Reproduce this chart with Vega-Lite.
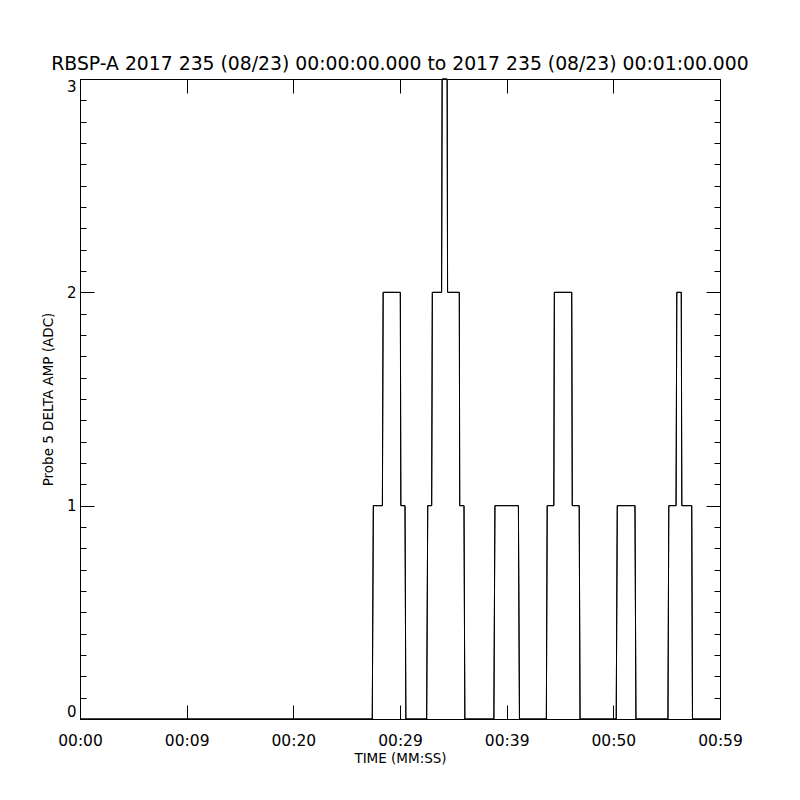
{
  "$schema": "https://vega.github.io/schema/vega-lite/v6.json",
  "autosize": {"type": "none"},
  "width": 640,
  "height": 640,
  "padding": {"left": 80, "top": 79, "right": 80, "bottom": 81},
  "background": "white",
  "title": {
    "text": "RBSP-A 2017 235 (08/23) 00:00:00.000 to 2017 235 (08/23) 00:01:00.000",
    "font": "DejaVu Sans",
    "fontSize": 18.8,
    "fontWeight": "normal",
    "color": "black",
    "anchor": "middle",
    "offset": 3
  },
  "data": {
    "values": [
      {"t": 0, "v": 0}, {"t": 27.4, "v": 0}, {"t": 27.5, "v": 1}, {"t": 28.35, "v": 1},
      {"t": 28.42, "v": 2}, {"t": 30.03, "v": 2}, {"t": 30.08, "v": 1}, {"t": 30.47, "v": 1},
      {"t": 30.55, "v": 0}, {"t": 32.5, "v": 0}, {"t": 32.6, "v": 1}, {"t": 32.97, "v": 1},
      {"t": 33.03, "v": 2}, {"t": 33.9, "v": 2}, {"t": 33.95, "v": 3}, {"t": 34.42, "v": 3},
      {"t": 34.46, "v": 2}, {"t": 35.56, "v": 2}, {"t": 35.6, "v": 1}, {"t": 36.0, "v": 1},
      {"t": 36.08, "v": 0}, {"t": 38.8, "v": 0}, {"t": 38.9, "v": 1}, {"t": 41.1, "v": 1},
      {"t": 41.2, "v": 0}, {"t": 43.72, "v": 0}, {"t": 43.8, "v": 1}, {"t": 44.42, "v": 1},
      {"t": 44.47, "v": 2}, {"t": 46.1, "v": 2}, {"t": 46.15, "v": 1}, {"t": 46.8, "v": 1},
      {"t": 46.88, "v": 0}, {"t": 50.27, "v": 0}, {"t": 50.37, "v": 1}, {"t": 52.03, "v": 1},
      {"t": 52.12, "v": 0}, {"t": 55.12, "v": 0}, {"t": 55.2, "v": 1}, {"t": 55.88, "v": 1},
      {"t": 55.95, "v": 2}, {"t": 56.37, "v": 2}, {"t": 56.42, "v": 1}, {"t": 57.35, "v": 1},
      {"t": 57.42, "v": 0}, {"t": 60, "v": 0}
    ]
  },
  "layer": [
    {
      "mark": {"type": "line", "color": "black", "strokeWidth": 1},
      "encoding": {
        "x": {
          "field": "t", "type": "quantitative",
          "scale": {"domain": [0, 60], "nice": false, "zero": false},
          "axis": {
            "orient": "bottom",
            "values": [0, 10, 20, 30, 40, 50, 60],
            "labelExpr": "['00:00','00:09','00:20','00:29','00:39','00:50','00:59'][round(datum.value/10)]",
            "title": "TIME (MM:SS)",
            "tickSize": -14,
            "labelPadding": 28,
            "labelFontSize": 15.5,
            "titlePadding": 3,
            "grid": false,
            "domain": false,
            "labelFlush": false,
            "labelOverlap": false
          }
        },
        "y": {
          "field": "v", "type": "quantitative",
          "scale": {"domain": [0, 3], "nice": false, "zero": false},
          "axis": {
            "orient": "left",
            "values": [0, 0.1, 0.2, 0.3, 0.4, 0.5, 0.6, 0.7, 0.8, 0.9, 1, 1.1, 1.2, 1.3, 1.4, 1.5, 1.6, 1.7, 1.8, 1.9, 2, 2.1, 2.2, 2.3, 2.4, 2.5, 2.6, 2.7, 2.8, 2.9, 3],
            "labelExpr": "datum.value % 1 === 0 ? format(datum.value, 'd') : ''",
            "tickSize": {"condition": {"test": "datum.value % 1 === 0", "value": -14}, "value": -6},
            "labelPadding": 18,
            "labelFontSize": 15,
            "labelFlush": true,
            "labelOverlap": false,
            "title": "Probe 5 DELTA AMP (ADC)",
            "titlePadding": 11,
            "grid": false,
            "domain": false
          }
        }
      }
    },
    {
      "mark": {"type": "line", "color": "black", "strokeWidth": 1},
      "encoding": {
        "x": {
          "field": "t", "type": "quantitative",
          "axis": {
            "orient": "top",
            "values": [0, 10, 20, 30, 40, 50, 60],
            "labels": false,
            "title": null,
            "tickSize": -14,
            "grid": false,
            "domain": false
          }
        },
        "y": {
          "field": "v", "type": "quantitative",
          "axis": {
            "orient": "right",
            "values": [0, 0.1, 0.2, 0.3, 0.4, 0.5, 0.6, 0.7, 0.8, 0.9, 1, 1.1, 1.2, 1.3, 1.4, 1.5, 1.6, 1.7, 1.8, 1.9, 2, 2.1, 2.2, 2.3, 2.4, 2.5, 2.6, 2.7, 2.8, 2.9, 3],
            "labels": false,
            "title": null,
            "tickSize": {"condition": {"test": "datum.value % 1 === 0", "value": -14}, "value": -6},
            "grid": false,
            "domain": false
          }
        }
      }
    }
  ],
  "resolve": {"axis": {"x": "independent", "y": "independent"}},
  "config": {
    "view": {"stroke": "black", "strokeWidth": 1},
    "font": "DejaVu Sans",
    "axis": {
      "tickColor": "black",
      "tickWidth": 1,
      "labelColor": "black",
      "labelFont": "DejaVu Sans",
      "labelFontSize": 14,
      "titleColor": "black",
      "titleFont": "DejaVu Sans",
      "titleFontSize": 13.5,
      "titleFontWeight": "normal"
    }
  }
}
